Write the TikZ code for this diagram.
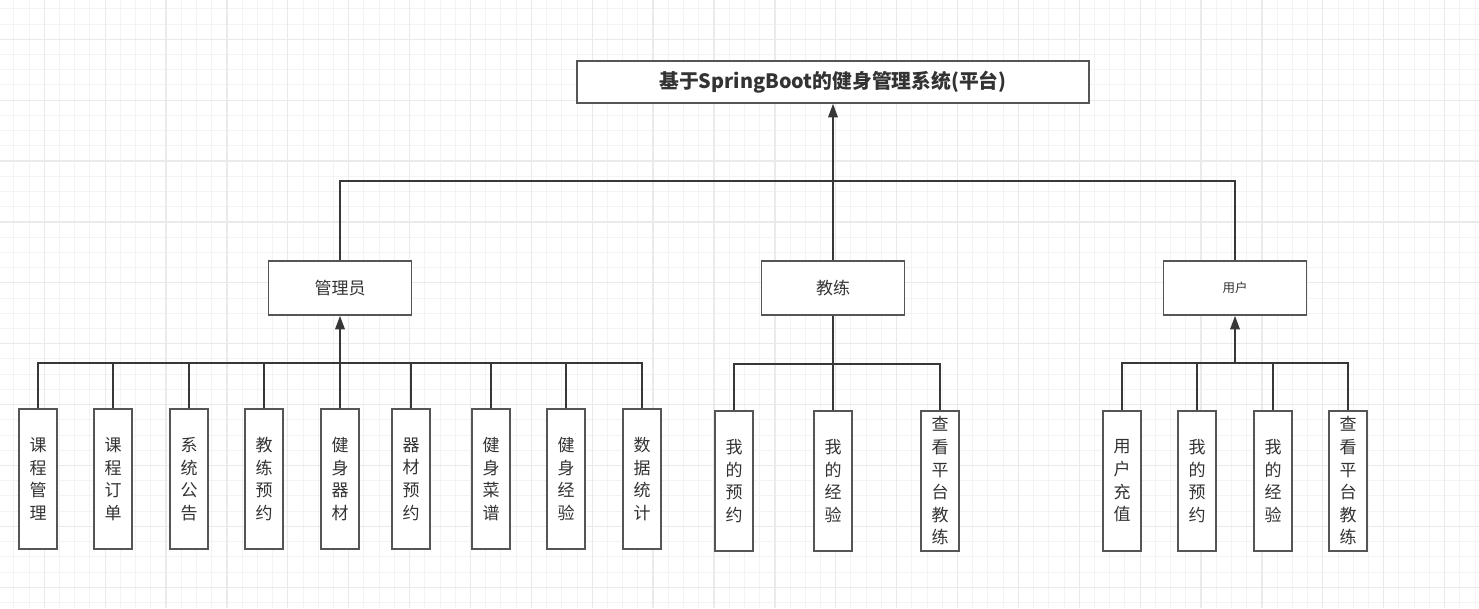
\documentclass[tikz,border=0pt]{standalone}
\usepackage{fontspec}
\setmainfont{Noto Sans CJK SC}
\usetikzlibrary{arrows.meta}

\definecolor{gridminor}{RGB}{243,243,243}
\definecolor{gridmajor}{RGB}{234,234,234}
\definecolor{boxgray}{RGB}{85,85,85}
\definecolor{linegray}{RGB}{55,55,55}
\definecolor{txtgray}{RGB}{51,51,51}

\tikzset{
    box/.style={draw=boxgray, line width=1.6pt, fill=white, minimum width=143pt, minimum height=54pt,
        inner sep=0pt, text=txtgray, font=\fontsize{17}{20}\selectfont},
    leaf/.style={draw=boxgray, line width=1.6pt, fill=white, minimum width=38pt, minimum height=140pt,
        inner sep=0pt, align=center, text=txtgray, font=\fontsize{17}{22.6}\selectfont},
    link/.style={draw=linegray, line width=1.7pt},
    uplink/.style={link, -{Triangle[width=9.5pt,length=13.5pt]}}
}

\begin{document}
\begin{tikzpicture}[x=1pt,y=-1pt]

    \useasboundingbox[fill=white] (0,0) rectangle (1479,608);

    \foreach \i in {0,...,98} {
        \draw[gridminor, line width=1pt] ({-1.36+15.22*\i},0) -- ({-1.36+15.22*\i},608);
    }
    \foreach \i in {0,...,41} {
        \draw[gridminor, line width=1pt] (0,{-6.36+15.22*\i}) -- (1479,{-6.36+15.22*\i});
    }
    \foreach \i in {0,...,24} {
        \draw[gridmajor, line width=1.3pt] ({44.3+60.88*\i},0) -- ({44.3+60.88*\i},608);
    }
    \foreach \i in {0,...,10} {
        \draw[gridmajor, line width=1.3pt] (0,{39.3+60.88*\i}) -- (1479,{39.3+60.88*\i});
    }

    \node[box, minimum width=512pt, minimum height=42pt, font=\fontsize{19.8}{22}\selectfont\bfseries]
        (root) at (833,82) {基于SpringBoot的健身管理系统(平台)};

    \node[box] (admin) at (340,288) {管理员};
    \node[box] (coach) at (833,288) {教练};
    \node[box, font=\fontsize{12.5}{15}\selectfont] (user) at (1235,288) {用户};

    \node[leaf] (a1) at (38,479) {课\\程\\管\\理};
    \node[leaf] (a2) at (113,479) {课\\程\\订\\单};
    \node[leaf] (a3) at (189,479) {系\\统\\公\\告};
    \node[leaf] (a4) at (264,479) {教\\练\\预\\约};
    \node[leaf] (a5) at (340,479) {健\\身\\器\\材};
    \node[leaf] (a6) at (411,479) {器\\材\\预\\约};
    \node[leaf] (a7) at (491,479) {健\\身\\菜\\谱};
    \node[leaf] (a8) at (566,479) {健\\身\\经\\验};
    \node[leaf] (a9) at (642,479) {数\\据\\统\\计};

    \node[leaf] (c1) at (734,481) {我\\的\\预\\约};
    \node[leaf] (c2) at (833,481) {我\\的\\经\\验};
    \node[leaf] (c3) at (940,481) {查\\看\\平\\台\\教\\练};

    \node[leaf] (u1) at (1122,481) {用\\户\\充\\值};
    \node[leaf] (u2) at (1197,481) {我\\的\\预\\约};
    \node[leaf] (u3) at (1273,481) {我\\的\\经\\验};
    \node[leaf] (u4) at (1348,481) {查\\看\\平\\台\\教\\练};

    \coordinate (topbus) at (833,181);
    \coordinate (abus) at (340,363);
    \coordinate (cbus) at (833,364);
    \coordinate (ubus) at (1235,363);

    \draw[link] (admin.north) -- (admin.north |- topbus) -- (user.north |- topbus) -- (user.north);
    \draw[uplink] (coach.north) -- (root.south);

    \draw[link] (a1.north) -- (a1.north |- abus) -- (a9.north |- abus) -- (a9.north);
    \foreach \n in {a2,a3,a4,a5,a6,a7,a8} {
        \draw[link] (\n.north) -- (\n.north |- abus);
    }
    \draw[uplink] (abus) -- (admin.south);

    \draw[link] (c1.north) -- (c1.north |- cbus) -- (c3.north |- cbus) -- (c3.north);
    \draw[link] (c2.north) -- (coach.south);

    \draw[link] (u1.north) -- (u1.north |- ubus) -- (u4.north |- ubus) -- (u4.north);
    \foreach \n in {u2,u3} {
        \draw[link] (\n.north) -- (\n.north |- ubus);
    }
    \draw[uplink] (ubus) -- (user.south);

\end{tikzpicture}
\end{document}
